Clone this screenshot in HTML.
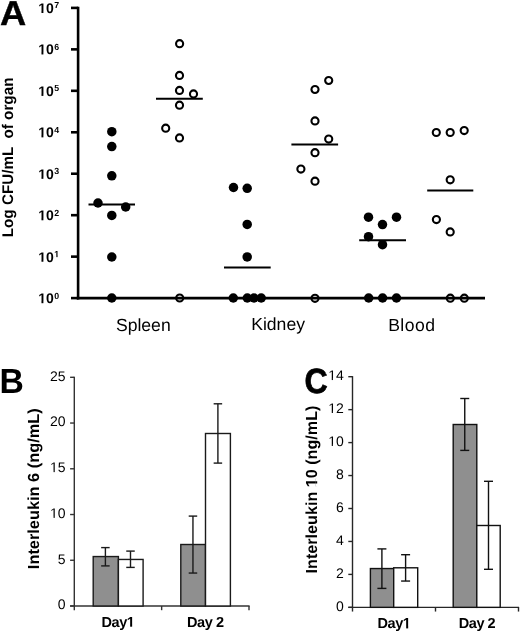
<!DOCTYPE html>
<html><head><meta charset="utf-8"><style>
html,body{margin:0;padding:0;background:#fff;}
svg{display:block;will-change:transform;}
text{font-family:"Liberation Sans", sans-serif;fill:#000;text-rendering:geometricPrecision;}
</style></head><body>
<svg width="520" height="633" viewBox="0 0 520 633">
<rect width="520" height="633" fill="#fff"/>
<line x1="78.1" y1="6.7" x2="78.1" y2="299.40000000000003" stroke="#000" stroke-width="2.6"/>
<line x1="76.8" y1="298.1" x2="485" y2="298.1" stroke="#000" stroke-width="2.6"/>
<line x1="71" y1="7.90" x2="78.1" y2="7.90" stroke="#000" stroke-width="2.6"/>
<text id="t1_1" x="38.2" y="13.00" font-size="14" font-weight="bold">10</text><rect x="38.48" y="11.00" width="7.71" height="2.70" fill="#fff"/><rect x="41.47" y="11.00" width="1.92" height="2.00" fill="#000"/>
<text x="54.3" y="8.40" font-size="8.8" font-weight="bold">7</text>
<line x1="71" y1="49.36" x2="78.1" y2="49.36" stroke="#000" stroke-width="2.6"/>
<text id="t1_2" x="38.2" y="54.46" font-size="14" font-weight="bold">10</text><rect x="38.48" y="52.00" width="7.71" height="3.16" fill="#fff"/><rect x="41.47" y="52.00" width="1.92" height="2.46" fill="#000"/>
<text x="54.3" y="49.86" font-size="8.8" font-weight="bold">6</text>
<line x1="71" y1="90.81" x2="78.1" y2="90.81" stroke="#000" stroke-width="2.6"/>
<text id="t1_3" x="38.2" y="95.91" font-size="14" font-weight="bold">10</text><rect x="38.48" y="94.00" width="7.71" height="2.61" fill="#fff"/><rect x="41.47" y="94.00" width="1.92" height="1.91" fill="#000"/>
<text x="54.3" y="91.31" font-size="8.8" font-weight="bold">5</text>
<line x1="71" y1="132.27" x2="78.1" y2="132.27" stroke="#000" stroke-width="2.6"/>
<text id="t1_4" x="38.2" y="137.37" font-size="14" font-weight="bold">10</text><rect x="38.48" y="135.00" width="7.71" height="3.07" fill="#fff"/><rect x="41.47" y="135.00" width="1.92" height="2.37" fill="#000"/>
<text x="54.3" y="132.77" font-size="8.8" font-weight="bold">4</text>
<line x1="71" y1="173.73" x2="78.1" y2="173.73" stroke="#000" stroke-width="2.6"/>
<text id="t1_5" x="38.2" y="178.83" font-size="14" font-weight="bold">10</text><rect x="38.48" y="177.00" width="7.71" height="2.53" fill="#fff"/><rect x="41.47" y="177.00" width="1.92" height="1.83" fill="#000"/>
<text x="54.3" y="174.23" font-size="8.8" font-weight="bold">3</text>
<line x1="71" y1="215.19" x2="78.1" y2="215.19" stroke="#000" stroke-width="2.6"/>
<text id="t1_6" x="38.2" y="220.29" font-size="14" font-weight="bold">10</text><rect x="38.48" y="218.00" width="7.71" height="2.99" fill="#fff"/><rect x="41.47" y="218.00" width="1.92" height="2.29" fill="#000"/>
<text x="54.3" y="215.69" font-size="8.8" font-weight="bold">2</text>
<line x1="71" y1="256.64" x2="78.1" y2="256.64" stroke="#000" stroke-width="2.6"/>
<text id="t1_7" x="38.2" y="261.74" font-size="14" font-weight="bold">10</text><rect x="38.48" y="260.00" width="7.71" height="2.44" fill="#fff"/><rect x="41.47" y="260.00" width="1.92" height="1.74" fill="#000"/>
<text id="t1_8" x="54.3" y="257.14" font-size="8.8" font-weight="bold">1</text><rect x="54.25" y="255.00" width="5.29" height="2.84" fill="#fff"/><rect x="56.35" y="255.00" width="1.21" height="2.14" fill="#000"/>
<line x1="71" y1="298.10" x2="78.1" y2="298.10" stroke="#000" stroke-width="2.6"/>
<text id="t1_9" x="38.2" y="303.20" font-size="14" font-weight="bold">10</text><rect x="38.48" y="301.00" width="7.71" height="2.90" fill="#fff"/><rect x="41.47" y="301.00" width="1.92" height="2.20" fill="#000"/>
<text x="54.3" y="298.60" font-size="8.8" font-weight="bold">0</text>
<line x1="88.5" y1="204.6" x2="135" y2="204.6" stroke="#000" stroke-width="2"/>
<line x1="156" y1="98.8" x2="202.8" y2="98.8" stroke="#000" stroke-width="2"/>
<line x1="224" y1="267.5" x2="270.7" y2="267.5" stroke="#000" stroke-width="2"/>
<line x1="291.4" y1="144.5" x2="338.1" y2="144.5" stroke="#000" stroke-width="2"/>
<line x1="359.2" y1="240.2" x2="406" y2="240.2" stroke="#000" stroke-width="2"/>
<line x1="427.2" y1="190.5" x2="473.3" y2="190.5" stroke="#000" stroke-width="2"/>
<circle cx="111.8" cy="131.7" r="4.75" fill="#000"/>
<circle cx="111.8" cy="146.6" r="4.75" fill="#000"/>
<circle cx="111.8" cy="175.8" r="4.75" fill="#000"/>
<circle cx="98" cy="203" r="4.75" fill="#000"/>
<circle cx="125.7" cy="207" r="4.75" fill="#000"/>
<circle cx="111.8" cy="215.4" r="4.75" fill="#000"/>
<circle cx="111.8" cy="257" r="4.75" fill="#000"/>
<circle cx="111.8" cy="298" r="4.75" fill="#000"/>
<circle cx="233.5" cy="187.5" r="4.75" fill="#000"/>
<circle cx="247.2" cy="188.3" r="4.75" fill="#000"/>
<circle cx="247.2" cy="224.4" r="4.75" fill="#000"/>
<circle cx="247.2" cy="256.9" r="4.75" fill="#000"/>
<circle cx="233.3" cy="298" r="4.75" fill="#000"/>
<circle cx="247.3" cy="298" r="4.75" fill="#000"/>
<circle cx="254" cy="298" r="4.75" fill="#000"/>
<circle cx="261.2" cy="298" r="4.75" fill="#000"/>
<circle cx="368.5" cy="217.2" r="4.75" fill="#000"/>
<circle cx="396.5" cy="217.2" r="4.75" fill="#000"/>
<circle cx="382.5" cy="224.6" r="4.75" fill="#000"/>
<circle cx="368.5" cy="236.7" r="4.75" fill="#000"/>
<circle cx="382.5" cy="244.7" r="4.75" fill="#000"/>
<circle cx="368.7" cy="298" r="4.75" fill="#000"/>
<circle cx="382.6" cy="298" r="4.75" fill="#000"/>
<circle cx="396.5" cy="298" r="4.75" fill="#000"/>
<circle cx="179.6" cy="43.7" r="3.55" fill="none" stroke="#000" stroke-width="2.1"/>
<circle cx="179.5" cy="75.4" r="3.55" fill="none" stroke="#000" stroke-width="2.1"/>
<circle cx="179.5" cy="90.4" r="3.55" fill="none" stroke="#000" stroke-width="2.1"/>
<circle cx="193.5" cy="93.9" r="3.55" fill="none" stroke="#000" stroke-width="2.1"/>
<circle cx="179.5" cy="105.2" r="3.55" fill="none" stroke="#000" stroke-width="2.1"/>
<circle cx="165.7" cy="128.2" r="3.55" fill="none" stroke="#000" stroke-width="2.1"/>
<circle cx="179.5" cy="137.9" r="3.55" fill="none" stroke="#000" stroke-width="2.1"/>
<circle cx="179.7" cy="298" r="3.55" fill="none" stroke="#000" stroke-width="2.1"/>
<circle cx="328.7" cy="80.5" r="3.55" fill="none" stroke="#000" stroke-width="2.1"/>
<circle cx="315" cy="89.5" r="3.55" fill="none" stroke="#000" stroke-width="2.1"/>
<circle cx="315" cy="120.9" r="3.55" fill="none" stroke="#000" stroke-width="2.1"/>
<circle cx="328.7" cy="139.1" r="3.55" fill="none" stroke="#000" stroke-width="2.1"/>
<circle cx="315" cy="152.7" r="3.55" fill="none" stroke="#000" stroke-width="2.1"/>
<circle cx="300.9" cy="169.1" r="3.55" fill="none" stroke="#000" stroke-width="2.1"/>
<circle cx="315" cy="181.2" r="3.55" fill="none" stroke="#000" stroke-width="2.1"/>
<circle cx="315" cy="298.3" r="3.55" fill="none" stroke="#000" stroke-width="2.1"/>
<circle cx="436.3" cy="132.5" r="3.55" fill="none" stroke="#000" stroke-width="2.1"/>
<circle cx="450.2" cy="132.5" r="3.55" fill="none" stroke="#000" stroke-width="2.1"/>
<circle cx="464.2" cy="130.6" r="3.55" fill="none" stroke="#000" stroke-width="2.1"/>
<circle cx="450.2" cy="179.8" r="3.55" fill="none" stroke="#000" stroke-width="2.1"/>
<circle cx="436.4" cy="219.6" r="3.55" fill="none" stroke="#000" stroke-width="2.1"/>
<circle cx="450.2" cy="231.9" r="3.55" fill="none" stroke="#000" stroke-width="2.1"/>
<circle cx="450.3" cy="298.2" r="3.55" fill="none" stroke="#000" stroke-width="2.1"/>
<circle cx="464.3" cy="298.2" r="3.55" fill="none" stroke="#000" stroke-width="2.1"/>
<text transform="translate(0.1,24.75) scale(1.05,1)" x="0" y="0" font-size="34.6" font-weight="bold" stroke="#000" stroke-width="0.4">A</text>
<text transform="translate(12.9,157.4) rotate(-90) scale(1.016,1.03)" text-anchor="middle" font-size="15" font-weight="bold" xml:space="preserve">Log CFU/mL  of organ</text>
<text x="143.3" y="330.8" font-size="17.6" text-anchor="middle">Spleen</text>
<text x="278.1" y="329.9" font-size="17.6" text-anchor="middle">Kidney</text>
<text x="411.8" y="330.7" font-size="17.6" letter-spacing="0.45" text-anchor="middle">Blood</text>
<line x1="74.3" y1="376.7" x2="74.3" y2="610.2" stroke="#333" stroke-width="1.4"/>
<line x1="70.1" y1="606.0" x2="249.6" y2="606.0" stroke="#333" stroke-width="1.4"/>
<line x1="161.65" y1="606.0" x2="161.65" y2="610.2" stroke="#333" stroke-width="1.4"/>
<line x1="249.0" y1="606.0" x2="249.0" y2="610.2" stroke="#333" stroke-width="1.4"/>
<line x1="70.1" y1="606.00" x2="74.3" y2="606.00" stroke="#333" stroke-width="1.4"/>
<text x="65.6" y="609.35" font-size="14" text-anchor="end" fill="#111">0</text>
<line x1="70.1" y1="560.26" x2="74.3" y2="560.26" stroke="#333" stroke-width="1.4"/>
<text x="65.6" y="563.61" font-size="14" text-anchor="end" fill="#111">5</text>
<line x1="70.1" y1="514.52" x2="74.3" y2="514.52" stroke="#333" stroke-width="1.4"/>
<text id="t1_10" x="65.6" y="517.87" font-size="14" text-anchor="end" fill="#111">10</text><rect x="50.49" y="516.00" width="7.24" height="2.57" fill="#fff"/><rect x="53.54" y="516.00" width="1.24" height="1.87" fill="#111"/>
<line x1="70.1" y1="468.78" x2="74.3" y2="468.78" stroke="#333" stroke-width="1.4"/>
<text id="t1_11" x="65.6" y="472.13" font-size="14" text-anchor="end" fill="#111">15</text><rect x="50.49" y="470.00" width="7.24" height="2.83" fill="#fff"/><rect x="53.54" y="470.00" width="1.24" height="2.13" fill="#111"/>
<line x1="70.1" y1="423.04" x2="74.3" y2="423.04" stroke="#333" stroke-width="1.4"/>
<text x="65.6" y="426.39" font-size="14" text-anchor="end" fill="#111">20</text>
<line x1="70.1" y1="377.30" x2="74.3" y2="377.30" stroke="#333" stroke-width="1.4"/>
<text x="65.6" y="380.65" font-size="14" text-anchor="end" fill="#111">25</text>
<rect x="93.2" y="556.55" width="25.20" height="49.45" fill="#8f8f8f" stroke="#1a1a1a" stroke-width="1.4"/>
<rect x="118.4" y="559.45" width="24.70" height="46.55" fill="#fff" stroke="#1a1a1a" stroke-width="1.4"/>
<rect x="180.8" y="544.5" width="24.70" height="61.50" fill="#8f8f8f" stroke="#1a1a1a" stroke-width="1.4"/>
<rect x="205.5" y="433.5" width="24.90" height="172.50" fill="#fff" stroke="#1a1a1a" stroke-width="1.4"/>
<line x1="105.4" y1="547.6" x2="105.4" y2="565.9" stroke="#1a1a1a" stroke-width="1.4"/>
<line x1="101.15" y1="547.6" x2="109.65" y2="547.6" stroke="#1a1a1a" stroke-width="1.4"/>
<line x1="101.15" y1="565.9" x2="109.65" y2="565.9" stroke="#1a1a1a" stroke-width="1.4"/>
<line x1="130.5" y1="551.1" x2="130.5" y2="567.4" stroke="#1a1a1a" stroke-width="1.4"/>
<line x1="126.25" y1="551.1" x2="134.75" y2="551.1" stroke="#1a1a1a" stroke-width="1.4"/>
<line x1="126.25" y1="567.4" x2="134.75" y2="567.4" stroke="#1a1a1a" stroke-width="1.4"/>
<line x1="192.95" y1="516.1" x2="192.95" y2="573.05" stroke="#1a1a1a" stroke-width="1.4"/>
<line x1="188.7" y1="516.1" x2="197.2" y2="516.1" stroke="#1a1a1a" stroke-width="1.4"/>
<line x1="188.7" y1="573.05" x2="197.2" y2="573.05" stroke="#1a1a1a" stroke-width="1.4"/>
<line x1="217.9" y1="403.8" x2="217.9" y2="463.1" stroke="#1a1a1a" stroke-width="1.4"/>
<line x1="213.65" y1="403.8" x2="222.15" y2="403.8" stroke="#1a1a1a" stroke-width="1.4"/>
<line x1="213.65" y1="463.1" x2="222.15" y2="463.1" stroke="#1a1a1a" stroke-width="1.4"/>
<text id="t1_12" x="117.97" y="626.7" font-size="14.5" letter-spacing="-0.45" font-weight="bold" text-anchor="middle">Day1</text><rect x="127.08" y="624.00" width="7.95" height="3.40" fill="#fff"/><rect x="130.15" y="624.00" width="1.99" height="2.70" fill="#000"/>
<text x="205.32" y="626.7" font-size="14.5" letter-spacing="-0.45" font-weight="bold" text-anchor="middle">Day 2</text>
<g transform="translate(38.9,488.75) rotate(-90) scale(1.022,1)"><text x="0" y="0" text-anchor="middle" font-size="16" font-weight="bold">Interleukin 6 (ng/mL)</text></g>
<text transform="translate(-0.6,393.1) scale(0.97,1)" x="0" y="0" font-size="34.8" font-weight="bold">B</text>
<line x1="352.5" y1="376.09999999999997" x2="352.5" y2="611.5500000000001" stroke="#262626" stroke-width="1.4"/>
<line x1="348.3" y1="607.35" x2="519.1" y2="607.35" stroke="#262626" stroke-width="1.4"/>
<line x1="435.5" y1="607.35" x2="435.5" y2="611.5500000000001" stroke="#262626" stroke-width="1.4"/>
<line x1="518.5" y1="607.35" x2="518.5" y2="611.5500000000001" stroke="#262626" stroke-width="1.4"/>
<line x1="348.3" y1="607.35" x2="352.5" y2="607.35" stroke="#262626" stroke-width="1.4"/>
<text x="343.8" y="610.70" font-size="14" text-anchor="end" fill="#111">0</text>
<line x1="348.3" y1="574.40" x2="352.5" y2="574.40" stroke="#262626" stroke-width="1.4"/>
<text x="343.8" y="577.75" font-size="14" text-anchor="end" fill="#111">2</text>
<line x1="348.3" y1="541.45" x2="352.5" y2="541.45" stroke="#262626" stroke-width="1.4"/>
<text x="343.8" y="544.80" font-size="14" text-anchor="end" fill="#111">4</text>
<line x1="348.3" y1="508.50" x2="352.5" y2="508.50" stroke="#262626" stroke-width="1.4"/>
<text x="343.8" y="511.85" font-size="14" text-anchor="end" fill="#111">6</text>
<line x1="348.3" y1="475.55" x2="352.5" y2="475.55" stroke="#262626" stroke-width="1.4"/>
<text x="343.8" y="478.90" font-size="14" text-anchor="end" fill="#111">8</text>
<line x1="348.3" y1="442.60" x2="352.5" y2="442.60" stroke="#262626" stroke-width="1.4"/>
<text id="t1_13" x="343.8" y="445.95" font-size="14" text-anchor="end" fill="#111">10</text><rect x="328.69" y="444.00" width="7.24" height="2.65" fill="#fff"/><rect x="331.74" y="444.00" width="1.24" height="1.95" fill="#111"/>
<line x1="348.3" y1="409.65" x2="352.5" y2="409.65" stroke="#262626" stroke-width="1.4"/>
<text id="t1_14" x="343.8" y="413.00" font-size="14" text-anchor="end" fill="#111">12</text><rect x="328.69" y="411.00" width="7.24" height="2.70" fill="#fff"/><rect x="331.74" y="411.00" width="1.24" height="2.00" fill="#111"/>
<line x1="348.3" y1="376.70" x2="352.5" y2="376.70" stroke="#262626" stroke-width="1.4"/>
<text id="t1_15" x="343.8" y="380.05" font-size="14" text-anchor="end" fill="#111">14</text><rect x="328.69" y="378.00" width="7.24" height="2.75" fill="#fff"/><rect x="331.74" y="378.00" width="1.24" height="2.05" fill="#111"/>
<rect x="370.4" y="568.55" width="23.30" height="38.80" fill="#8f8f8f" stroke="#111" stroke-width="1.4"/>
<rect x="393.7" y="567.8" width="24.00" height="39.55" fill="#fff" stroke="#111" stroke-width="1.4"/>
<rect x="453.2" y="424.5" width="23.60" height="182.85" fill="#8f8f8f" stroke="#111" stroke-width="1.4"/>
<rect x="476.8" y="525.5" width="23.40" height="81.85" fill="#fff" stroke="#111" stroke-width="1.4"/>
<line x1="381.9" y1="548.9" x2="381.9" y2="588.4" stroke="#111" stroke-width="1.4"/>
<line x1="377.4" y1="548.9" x2="386.4" y2="548.9" stroke="#111" stroke-width="1.4"/>
<line x1="377.4" y1="588.4" x2="386.4" y2="588.4" stroke="#111" stroke-width="1.4"/>
<line x1="405.6" y1="554.7" x2="405.6" y2="581.05" stroke="#111" stroke-width="1.4"/>
<line x1="401.1" y1="554.7" x2="410.1" y2="554.7" stroke="#111" stroke-width="1.4"/>
<line x1="401.1" y1="581.05" x2="410.1" y2="581.05" stroke="#111" stroke-width="1.4"/>
<line x1="464.75" y1="398.5" x2="464.75" y2="450.4" stroke="#111" stroke-width="1.4"/>
<line x1="460.25" y1="398.5" x2="469.25" y2="398.5" stroke="#111" stroke-width="1.4"/>
<line x1="460.25" y1="450.4" x2="469.25" y2="450.4" stroke="#111" stroke-width="1.4"/>
<line x1="488.5" y1="481.3" x2="488.5" y2="569.3" stroke="#111" stroke-width="1.4"/>
<line x1="484.0" y1="481.3" x2="493.0" y2="481.3" stroke="#111" stroke-width="1.4"/>
<line x1="484.0" y1="569.3" x2="493.0" y2="569.3" stroke="#111" stroke-width="1.4"/>
<text id="t1_16" x="394.00" y="628.4" font-size="14.5" letter-spacing="-0.45" font-weight="bold" text-anchor="middle">Day1</text><rect x="403.11" y="626.00" width="7.95" height="3.10" fill="#fff"/><rect x="406.18" y="626.00" width="1.99" height="2.40" fill="#000"/>
<text x="477.00" y="628.4" font-size="14.5" letter-spacing="-0.45" font-weight="bold" text-anchor="middle">Day 2</text>
<g transform="translate(317.2,489.5) rotate(-90) scale(1.01,1)"><text id="t1_17" x="0" y="0" text-anchor="middle" font-size="16" font-weight="bold">Interleukin 10 (ng/mL)</text><rect x="2.63" y="-2.00" width="8.65" height="2.70" fill="#fff"/><rect x="5.95" y="-2.00" width="2.20" height="2.00" fill="#000"/></g>
<text transform="translate(304.4,393.25) scale(0.92,1)" x="0" y="0" font-size="35.0" font-weight="bold" stroke="#000" stroke-width="0.7">C</text>
</svg>
</body></html>
